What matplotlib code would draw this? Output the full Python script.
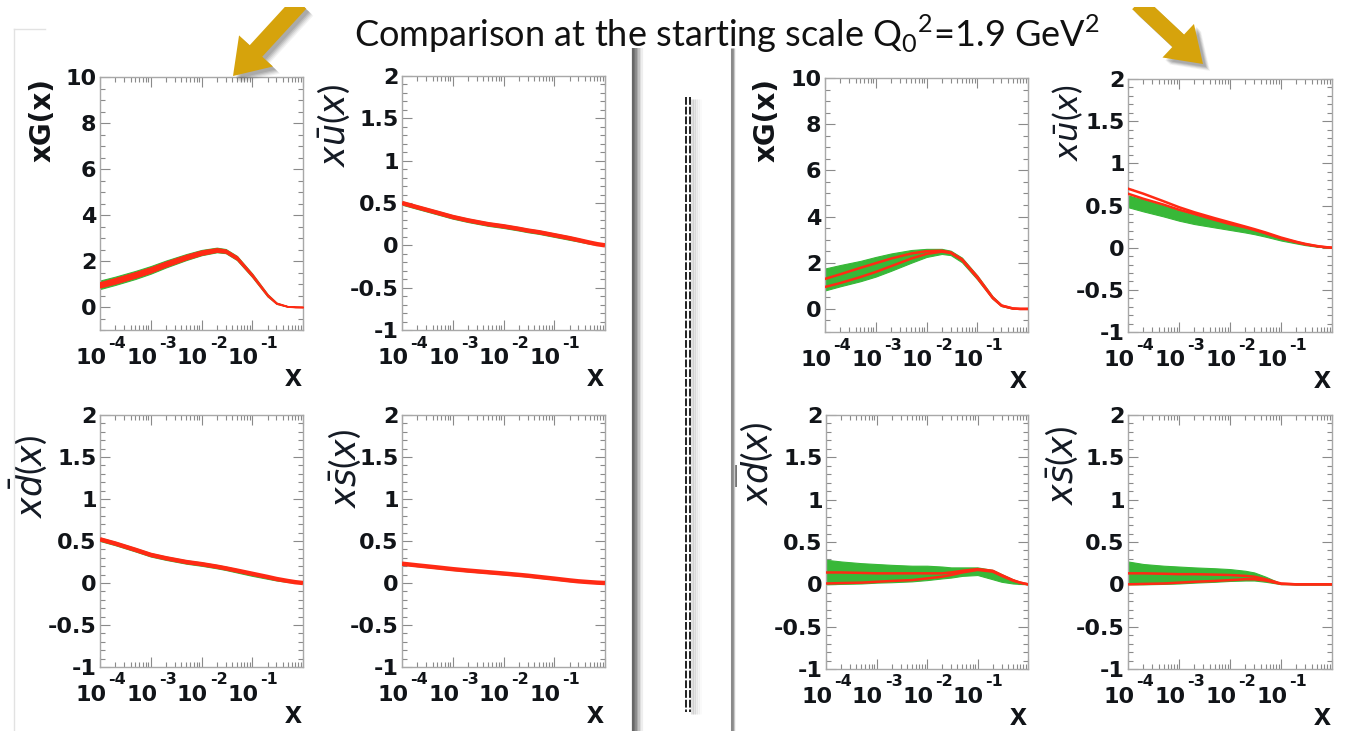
import numpy as np
import matplotlib
matplotlib.use("Agg")
import matplotlib.pyplot as plt
from matplotlib import patches
from matplotlib.transforms import offset_copy
from matplotlib.ticker import FixedLocator, LogLocator, MultipleLocator, FuncFormatter, NullFormatter

plt.rcParams['mathtext.fontset'] = 'custom'
plt.rcParams['mathtext.rm'] = 'Lato'
plt.rcParams['mathtext.it'] = 'DejaVu Sans:italic'
plt.rcParams['mathtext.bf'] = 'DejaVu Sans:bold'
plt.rcParams['font.family'] = 'DejaVu Sans'
plt.rcParams['axes.unicode_minus'] = False

W, H = 1364, 731

# ---------------- data ----------------
x_grid = [1e-4, 2e-4, 5e-4, 1e-3, 2e-3, 5e-3, 1e-2, 2e-2, 3e-2, 5e-2, 0.1, 0.2, 0.3, 0.5, 0.7, 1.0]

# fit A (left block)
gA_hi = [1.15, 1.32, 1.57, 1.78, 2.02, 2.30, 2.48, 2.58, 2.52, 2.22, 1.45, 0.56, 0.19, 0.03, 0.01, 0.0]
gA_lo = [0.78, 0.96, 1.22, 1.45, 1.72, 2.04, 2.25, 2.38, 2.34, 2.04, 1.30, 0.46, 0.14, 0.01, 0.0, 0.0]
gA_red_hi = [1.07, 1.25, 1.51, 1.72, 1.97, 2.26, 2.45, 2.55, 2.49, 2.19, 1.42, 0.54, 0.18, 0.03, 0.01, 0.0]
gA_red_lo = [0.86, 1.03, 1.29, 1.51, 1.77, 2.08, 2.28, 2.41, 2.37, 2.07, 1.33, 0.48, 0.15, 0.02, 0.0, 0.0]

uA_hi = [0.52, 0.47, 0.405, 0.355, 0.315, 0.27, 0.245, 0.215, 0.195, 0.175, 0.14, 0.105, 0.08, 0.048, 0.025, 0.0]
uA_lo = [0.48, 0.43, 0.365, 0.315, 0.275, 0.23, 0.205, 0.175, 0.155, 0.135, 0.10, 0.065, 0.045, 0.018, 0.006, 0.0]
uA_red = [0.50, 0.45, 0.385, 0.335, 0.295, 0.25, 0.225, 0.195, 0.175, 0.155, 0.12, 0.085, 0.062, 0.032, 0.014, 0.0]

dA_hi = [0.54, 0.49, 0.415, 0.355, 0.315, 0.27, 0.245, 0.215, 0.195, 0.165, 0.125, 0.085, 0.06, 0.03, 0.012, 0.0]
dA_lo = [0.50, 0.45, 0.375, 0.315, 0.275, 0.23, 0.205, 0.175, 0.155, 0.125, 0.085, 0.05, 0.03, 0.012, 0.004, 0.0]
dA_red = [0.52, 0.47, 0.395, 0.335, 0.295, 0.25, 0.225, 0.195, 0.175, 0.148, 0.11, 0.072, 0.048, 0.024, 0.01, 0.0]

sA_hi = [0.24, 0.22, 0.195, 0.175, 0.158, 0.138, 0.123, 0.107, 0.097, 0.082, 0.062, 0.04, 0.028, 0.015, 0.007, 0.0]
sA_lo = [0.22, 0.20, 0.175, 0.155, 0.138, 0.118, 0.103, 0.087, 0.077, 0.062, 0.042, 0.022, 0.014, 0.006, 0.002, 0.0]
sA_red = [0.23, 0.21, 0.185, 0.165, 0.148, 0.128, 0.113, 0.097, 0.087, 0.072, 0.052, 0.031, 0.02, 0.01, 0.004, 0.0]

# fit B (right block)
gB_hi = [1.75, 1.90, 2.08, 2.25, 2.40, 2.55, 2.60, 2.60, 2.52, 2.22, 1.45, 0.55, 0.18, 0.03, 0.01, 0.0]
gB_lo = [0.80, 0.98, 1.20, 1.40, 1.65, 2.00, 2.25, 2.38, 2.33, 2.02, 1.28, 0.44, 0.12, 0.01, 0.0, 0.0]
gB_red1 = [1.30, 1.50, 1.78, 1.98, 2.18, 2.40, 2.50, 2.52, 2.45, 2.15, 1.40, 0.50, 0.15, 0.02, 0.0, 0.0]
gB_red2 = [0.95, 1.12, 1.38, 1.60, 1.85, 2.18, 2.38, 2.48, 2.42, 2.12, 1.35, 0.48, 0.14, 0.02, 0.0, 0.0]

uB_hi = [0.62, 0.57, 0.50, 0.44, 0.39, 0.33, 0.29, 0.24, 0.21, 0.17, 0.11, 0.065, 0.04, 0.018, 0.007, 0.0]
uB_lo = [0.48, 0.43, 0.37, 0.32, 0.28, 0.24, 0.21, 0.18, 0.16, 0.13, 0.085, 0.05, 0.03, 0.012, 0.005, 0.0]
uB_red1 = [0.70, 0.64, 0.55, 0.48, 0.42, 0.35, 0.30, 0.25, 0.22, 0.18, 0.12, 0.07, 0.045, 0.02, 0.008, 0.0]
uB_red2 = [0.64, 0.58, 0.51, 0.45, 0.40, 0.33, 0.28, 0.24, 0.21, 0.17, 0.11, 0.065, 0.04, 0.018, 0.007, 0.0]

dB_hi = [0.29, 0.27, 0.25, 0.24, 0.23, 0.22, 0.22, 0.21, 0.20, 0.20, 0.20, 0.17, 0.12, 0.06, 0.025, 0.0]
dB_lo = [0.0, 0.005, 0.01, 0.02, 0.025, 0.035, 0.05, 0.07, 0.08, 0.10, 0.11, 0.06, 0.03, 0.01, 0.005, 0.0]
dB_red1 = [0.14, 0.14, 0.135, 0.13, 0.13, 0.13, 0.13, 0.13, 0.14, 0.16, 0.18, 0.16, 0.11, 0.05, 0.02, 0.0]
dB_red2 = [0.01, 0.015, 0.02, 0.03, 0.04, 0.05, 0.07, 0.09, 0.11, 0.14, 0.17, 0.15, 0.10, 0.045, 0.02, 0.0]

sB_hi = [0.27, 0.24, 0.22, 0.21, 0.20, 0.19, 0.18, 0.16, 0.14, 0.09, 0.01, 0.0, 0.0, 0.0, 0.0, 0.0]
sB_lo = [0.0, 0.0, 0.005, 0.01, 0.02, 0.03, 0.04, 0.045, 0.045, 0.03, 0.002, 0.0, 0.0, 0.0, 0.0, 0.0]
sB_red1 = [0.13, 0.13, 0.125, 0.12, 0.12, 0.115, 0.11, 0.10, 0.09, 0.06, 0.01, 0.0, 0.0, 0.0, 0.0, 0.0]
sB_red2 = [0.0, 0.005, 0.01, 0.02, 0.03, 0.04, 0.05, 0.06, 0.06, 0.045, 0.005, 0.0, 0.0, 0.0, 0.0, 0.0]

x_tick_vals = [1e-4, 1e-3, 1e-2, 1e-1, 1.0]
x_tick_exps = ["-4", "-3", "-2", "-1"]

title_text = r"Comparison at the starting scale Q$_0$$^2$=1.9 GeV$^2$"
label_g = "xG(x)"
label_u = r"$x\bar{u}(x)$"
label_d = r"$x\bar{d}(x)$"
label_s = r"$x\bar{s}(x)$"

GREEN = '#38b838'
RED = '#ff2a14'
FRAME = '#a8a8a8'
TICK = '#8a8a8a'
INK = '#111418'

fig = plt.figure(figsize=(W / 100, H / 100), dpi=100)
fig.patch.set_facecolor('white')


def px_axes(left, top, right, bottom):
    return fig.add_axes([left / W, 1 - bottom / H, (right - left) / W, (bottom - top) / H])


def fig_text(px, py, s, **kw):
    fig.text(px / W, 1 - py / H, s, **kw)


def style(ax, ylim, major, minor):
    ax.set_xscale('log')
    ax.set_xlim(1e-4, 1.0)
    ax.set_ylim(*ylim)
    ax.xaxis.set_major_locator(FixedLocator(x_tick_vals))
    ax.xaxis.set_major_formatter(NullFormatter())
    ax.xaxis.set_minor_locator(LogLocator(base=10, subs=np.arange(2, 10), numticks=20))
    ax.xaxis.set_minor_formatter(NullFormatter())
    ax.yaxis.set_major_locator(MultipleLocator(major))
    ax.yaxis.set_minor_locator(MultipleLocator(minor))
    ax.yaxis.set_major_formatter(FuncFormatter(lambda v, p: '%g' % v))
    ax.tick_params(which='both', direction='in', top=True, right=True,
                   color=TICK, width=0.8)
    ax.tick_params(which='major', length=7)
    ax.tick_params(which='minor', length=3.5)
    ax.tick_params(axis='y', labelsize=16, pad=2.5, labelcolor=INK)
    for t in ax.get_yticklabels():
        t.set_fontweight('bold')
    for sp in ax.spines.values():
        sp.set_color(FRAME)
        sp.set_linewidth(1.0)
    # ROOT-like decade labels: base "10" with a raised exponent to its right
    base_tr = offset_copy(ax.get_xaxis_transform(), fig=fig, x=-9, y=-28, units='dots')
    exp_tr = offset_copy(ax.get_xaxis_transform(), fig=fig, x=17, y=-13, units='dots')
    for xv, e in zip(x_tick_vals, x_tick_exps):
        ax.text(xv, 0, "10", transform=base_tr, ha='center', va='center',
                fontsize=16, fontweight='bold', color=INK, clip_on=False)
        ax.text(xv, 0, e, transform=exp_tr, ha='center', va='center',
                fontsize=11.5, fontweight='bold', color=INK, clip_on=False)
    ax.text(1.0, 0, "x", transform=offset_copy(ax.transAxes, fig=fig, x=-1, y=-56, units='dots'),
            ha='right', va='baseline', fontsize=22, fontweight='bold',
            family='Liberation Sans', color=INK, clip_on=False)


def narrow_panel(box, hi, lo, red, ylim, major, minor):
    ax = px_axes(*box)
    style(ax, ylim, major, minor)
    ax.fill_between(x_grid, lo, hi, color=GREEN, lw=0.8, ec=GREEN, zorder=2)
    ax.plot(x_grid, red, color=RED, lw=3.2, zorder=3, solid_capstyle='butt')
    return ax


def wide_panel(box, hi, lo, r1, r2, ylim, major, minor, fill_red=False):
    ax = px_axes(*box)
    style(ax, ylim, major, minor)
    ax.fill_between(x_grid, lo, hi, color=GREEN, lw=0.8, ec=GREEN, zorder=2)
    if fill_red:
        ax.fill_between(x_grid, r2, r1, color=RED, lw=1.2, ec=RED, zorder=3)
    else:
        ax.plot(x_grid, r1, color=RED, lw=1.8, zorder=3)
        ax.plot(x_grid, r2, color=RED, lw=1.8, zorder=3)
    return ax


# left block
wide_panel((100, 77, 303, 330), gA_hi, gA_lo, gA_red_hi, gA_red_lo, (-1, 10), 2, 0.5, fill_red=True)
narrow_panel((402, 76, 605, 330), uA_hi, uA_lo, uA_red, (-1, 2), 0.5, 0.1)
narrow_panel((100, 415, 303, 667), dA_hi, dA_lo, dA_red, (-1, 2), 0.5, 0.1)
narrow_panel((402, 415, 605, 667), sA_hi, sA_lo, sA_red, (-1, 2), 0.5, 0.1)

# right block
wide_panel((825, 78, 1028, 332), gB_hi, gB_lo, gB_red1, gB_red2, (-1, 10), 2, 0.5)
wide_panel((1128, 79, 1332, 332), uB_hi, uB_lo, uB_red1, uB_red2, (-1, 2), 0.5, 0.1)
wide_panel((826, 415, 1028, 669), dB_hi, dB_lo, dB_red1, dB_red2, (-1, 2), 0.5, 0.1)
wide_panel((1128, 415, 1332, 669), sB_hi, sB_lo, sB_red1, sB_red2, (-1, 2), 0.5, 0.1)

# y-axis titles
fig_text(43, 120, label_g, rotation=90, ha='center', va='center', fontsize=20,
         fontweight='bold', color=INK)
fig_text(767, 120, label_g, rotation=90, ha='center', va='center', fontsize=20,
         fontweight='bold', color=INK)
for (px, py, s, fs) in [(334, 125, label_u, 25), (1068, 123, label_u, 23),
                        (29, 476, label_d, 25), (755, 463, label_d, 25),
                        (345, 468, label_s, 25), (1062, 465, label_s, 25)]:
    fig_text(px, py, s, rotation=90, ha='center', va='center', fontsize=fs,
             color='#141a24')

# title
fig_text(727, 34, title_text, ha='center', va='center', fontsize=26,
         family='Lato', color='#111111')

# decorations on a full-figure overlay
ov = fig.add_axes([0, 0, 1, 1], zorder=10)
ov.set_xlim(0, W)
ov.set_ylim(H, 0)
ov.axis('off')
ov.patch.set_alpha(0)

# slide border
ov.plot([14, 14], [29, 731], color='#e2e2e2', lw=1)
ov.plot([14, 45], [29, 29], color='#e2e2e2', lw=1)

# separators
for xx, c in [(633, '#666666'), (634.5, '#737373'), (636, '#8a8a8a'),
              (637.5, '#a6a6a6'), (639, '#c2c2c2'), (640.5, '#dadada'),
              (642, '#eeeeee')]:
    ov.plot([xx, xx], [48, 731], color=c, lw=1.6, solid_capstyle='butt')
ov.plot([731.5, 731.5], [48, 731], color='#8a8a8a', lw=2.2, solid_capstyle='butt')
ov.plot([733.5, 733.5], [48, 731], color='#c8c8c8', lw=1.0, solid_capstyle='butt')
ov.add_patch(patches.Rectangle((733, 465), 4, 22, color='#777777', lw=0))

# dashed double rule with soft shadow
for xx, a in [(692, 0.25), (694, 0.2), (696, 0.14), (698, 0.08), (700, 0.04)]:
    ov.plot([xx, xx], [99, 714], color='#808080', lw=2, alpha=a, solid_capstyle='butt')
for xx in (685.5, 689.5):
    ov.plot([xx, xx], [97, 712], color='#222222', lw=1.4, linestyle=(0, (4, 1)))

# arrows
GOLD = '#d6a30c'


def arrow(x0, y0, x1, y1):
    dx, dy = x1 - x0, y1 - y0
    for off, a in [(7, 0.06), (6, 0.08), (5, 0.10), (4, 0.12), (3, 0.12)]:
        ov.add_patch(patches.FancyArrow(x0 + off, y0 + off, dx, dy, width=17,
                                        head_width=46, head_length=34,
                                        length_includes_head=True,
                                        color='#303030', alpha=a, lw=0))
    ov.add_patch(patches.FancyArrow(x0, y0, dx, dy, width=17, head_width=46,
                                    head_length=34, length_includes_head=True,
                                    color=GOLD, lw=0))


arrow(300, 3, 233, 76)
arrow(1138, 3, 1203, 64)
ov.add_patch(patches.Rectangle((0, 0), W, 7, color='white', lw=0, zorder=20))

fig.savefig("out.png", dpi=100, facecolor='white')
